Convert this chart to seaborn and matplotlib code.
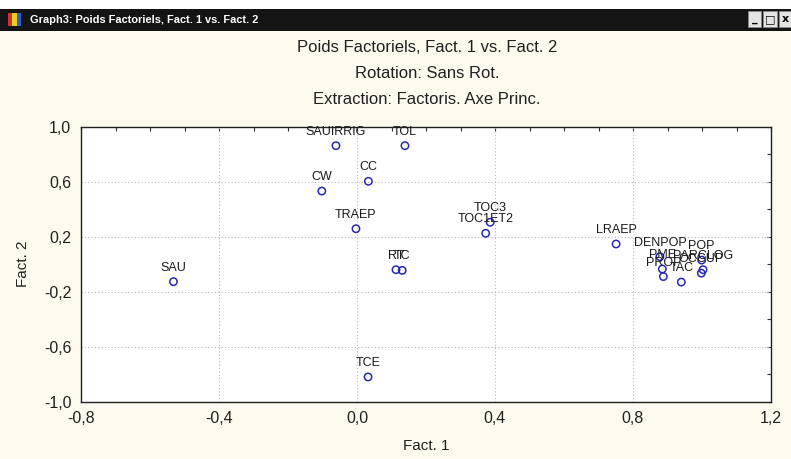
import matplotlib
matplotlib.use("Agg")
import matplotlib.pyplot as plt
from matplotlib.patches import Rectangle
from matplotlib.ticker import MultipleLocator, FuncFormatter
import seaborn as sns
import pandas as pd

# Factor loadings (Fact. 1, Fact. 2) per variable
variables = ["SAU", "SAUIRRIG", "TOL", "CW", "CC", "TRAEP", "RT", "TC", "TCE",
             "TOC3", "TOC1ET2", "LRAEP", "DENPOP", "PME", "PROP", "TAC",
             "POP", "PARCLOG", "OCCUP"]
fact1 = [-0.532, -0.061, 0.139, -0.102, 0.033, -0.003, 0.113, 0.131, 0.032,
         0.386, 0.373, 0.751, 0.878, 0.885, 0.888, 0.940,
         0.999, 1.003, 0.998]
fact2 = [-0.127, 0.862, 0.862, 0.532, 0.603, 0.258, -0.040, -0.045, -0.820,
         0.305, 0.225, 0.147, 0.055, -0.035, -0.090, -0.130,
         0.030, -0.040, -0.065]

x_ticks = [-0.8, -0.4, 0.0, 0.4, 0.8, 1.2]
y_ticks = [-1.0, -0.6, -0.2, 0.2, 0.6, 1.0]

titles = ["Poids Factoriels, Fact. 1 vs. Fact. 2",
          "Rotation: Sans Rot.",
          "Extraction: Factoris. Axe Princ."]
window_title = "Graph3: Poids Factoriels, Fact. 1 vs. Fact. 2"

df = pd.DataFrame({"var": variables, "f1": fact1, "f2": fact2})

sns.set_style("white")
plt.rcParams["font.family"] = ["Liberation Sans", "DejaVu Sans"]

W, H = 791, 459
fig = plt.figure(figsize=(W / 100, H / 100), dpi=100)
fig.patch.set_facecolor("#FEFAEF")

def fx(px):
    return px / W

def fy(py):
    return 1 - py / H

# window frame: title bar with icon and buttons
fig.patches.append(Rectangle((0, fy(9)), 1, fy(0) - fy(9), transform=fig.transFigure,
                             facecolor="white", edgecolor="none", zorder=0))
fig.patches.append(Rectangle((0, fy(31)), 1, fy(9) - fy(31), transform=fig.transFigure,
                             facecolor="#141414", edgecolor="none", zorder=0))
for (x0, x1, col) in [(8, 12, "#d83030"), (12, 17, "#e8d020"), (17, 21, "#3060d0")]:
    fig.patches.append(Rectangle((fx(x0), fy(26)), fx(x1 - x0), fy(13) - fy(26),
                                 transform=fig.transFigure, facecolor=col,
                                 edgecolor="none", zorder=1))
fig.text(fx(30), fy(20), window_title, color="white", fontsize=7.9,
         ha="left", va="center", fontweight="bold")
for (x0, x1, glyph) in [(748, 761, "_"), (763, 777, "□"), (779, 791, "x")]:
    fig.patches.append(Rectangle((fx(x0), fy(27)), fx(x1 - x0), fy(11) - fy(27),
                                 transform=fig.transFigure, facecolor="#e4e4e4",
                                 edgecolor="#888888", linewidth=0.6, zorder=1))
    fig.text(fx((x0 + x1) / 2), fy(19), glyph, color="black", fontsize=8,
             ha="center", va="center", fontweight="bold",
             family=["DejaVu Sans"])

# chart titles
for i, t in enumerate(titles):
    fig.text(fx(427), fy(47 + 26.5 * i), t, ha="center", va="center",
             fontsize=12, color="#202020")

ax = fig.add_axes([fx(81), fy(401.7), fx(771 - 81), fy(126.7) - fy(401.7)])
ax.set_facecolor("white")

sns.scatterplot(data=df, x="f1", y="f2", ax=ax, marker="o", s=28,
                facecolor="none", edgecolor="#2828b4", linewidth=1.1, zorder=3)

for name, a, b in zip(variables, fact1, fact2):
    ax.annotate(name, (a, b), xytext=(0, 10), textcoords="offset points",
                ha="center", va="center", fontsize=9, color="#1a1a1a", zorder=4)

ax.set_xlim(-0.8, 1.2)
ax.set_ylim(-1.0, 1.0)
ax.set_xticks(x_ticks)
ax.set_yticks(y_ticks)
ax.xaxis.set_minor_locator(MultipleLocator(0.1))
ax.yaxis.set_minor_locator(MultipleLocator(0.2))
fmt = FuncFormatter(lambda v, p: f"{v:.1f}".replace(".", ",").replace("-0,0", "0,0"))
ax.xaxis.set_major_formatter(fmt)
ax.yaxis.set_major_formatter(fmt)
ax.tick_params(which="both", direction="in", top=True, right=True,
               length=3, width=0.8, color="#333333")
ax.tick_params(which="major", labelsize=11.5, labelcolor="#202020", pad=7)

ax.grid(False)
for v in [-0.4, 0.0, 0.4, 0.8]:
    ax.axvline(v, color="#b8b8b8", linestyle=(0, (1, 2)), linewidth=0.8, zorder=1)
for v in [-0.6, -0.2, 0.2, 0.6]:
    ax.axhline(v, color="#b8b8b8", linestyle=(0, (1, 2)), linewidth=0.8, zorder=1)

for s in ax.spines.values():
    s.set_color("#202020")
    s.set_linewidth(1.0)

ax.set_xlabel("Fact. 1", fontsize=11, color="#202020", labelpad=9)
ax.set_ylabel("Fact. 2", fontsize=11, color="#202020", labelpad=10)

fig.savefig("out.png", dpi=100, facecolor=fig.get_facecolor())
